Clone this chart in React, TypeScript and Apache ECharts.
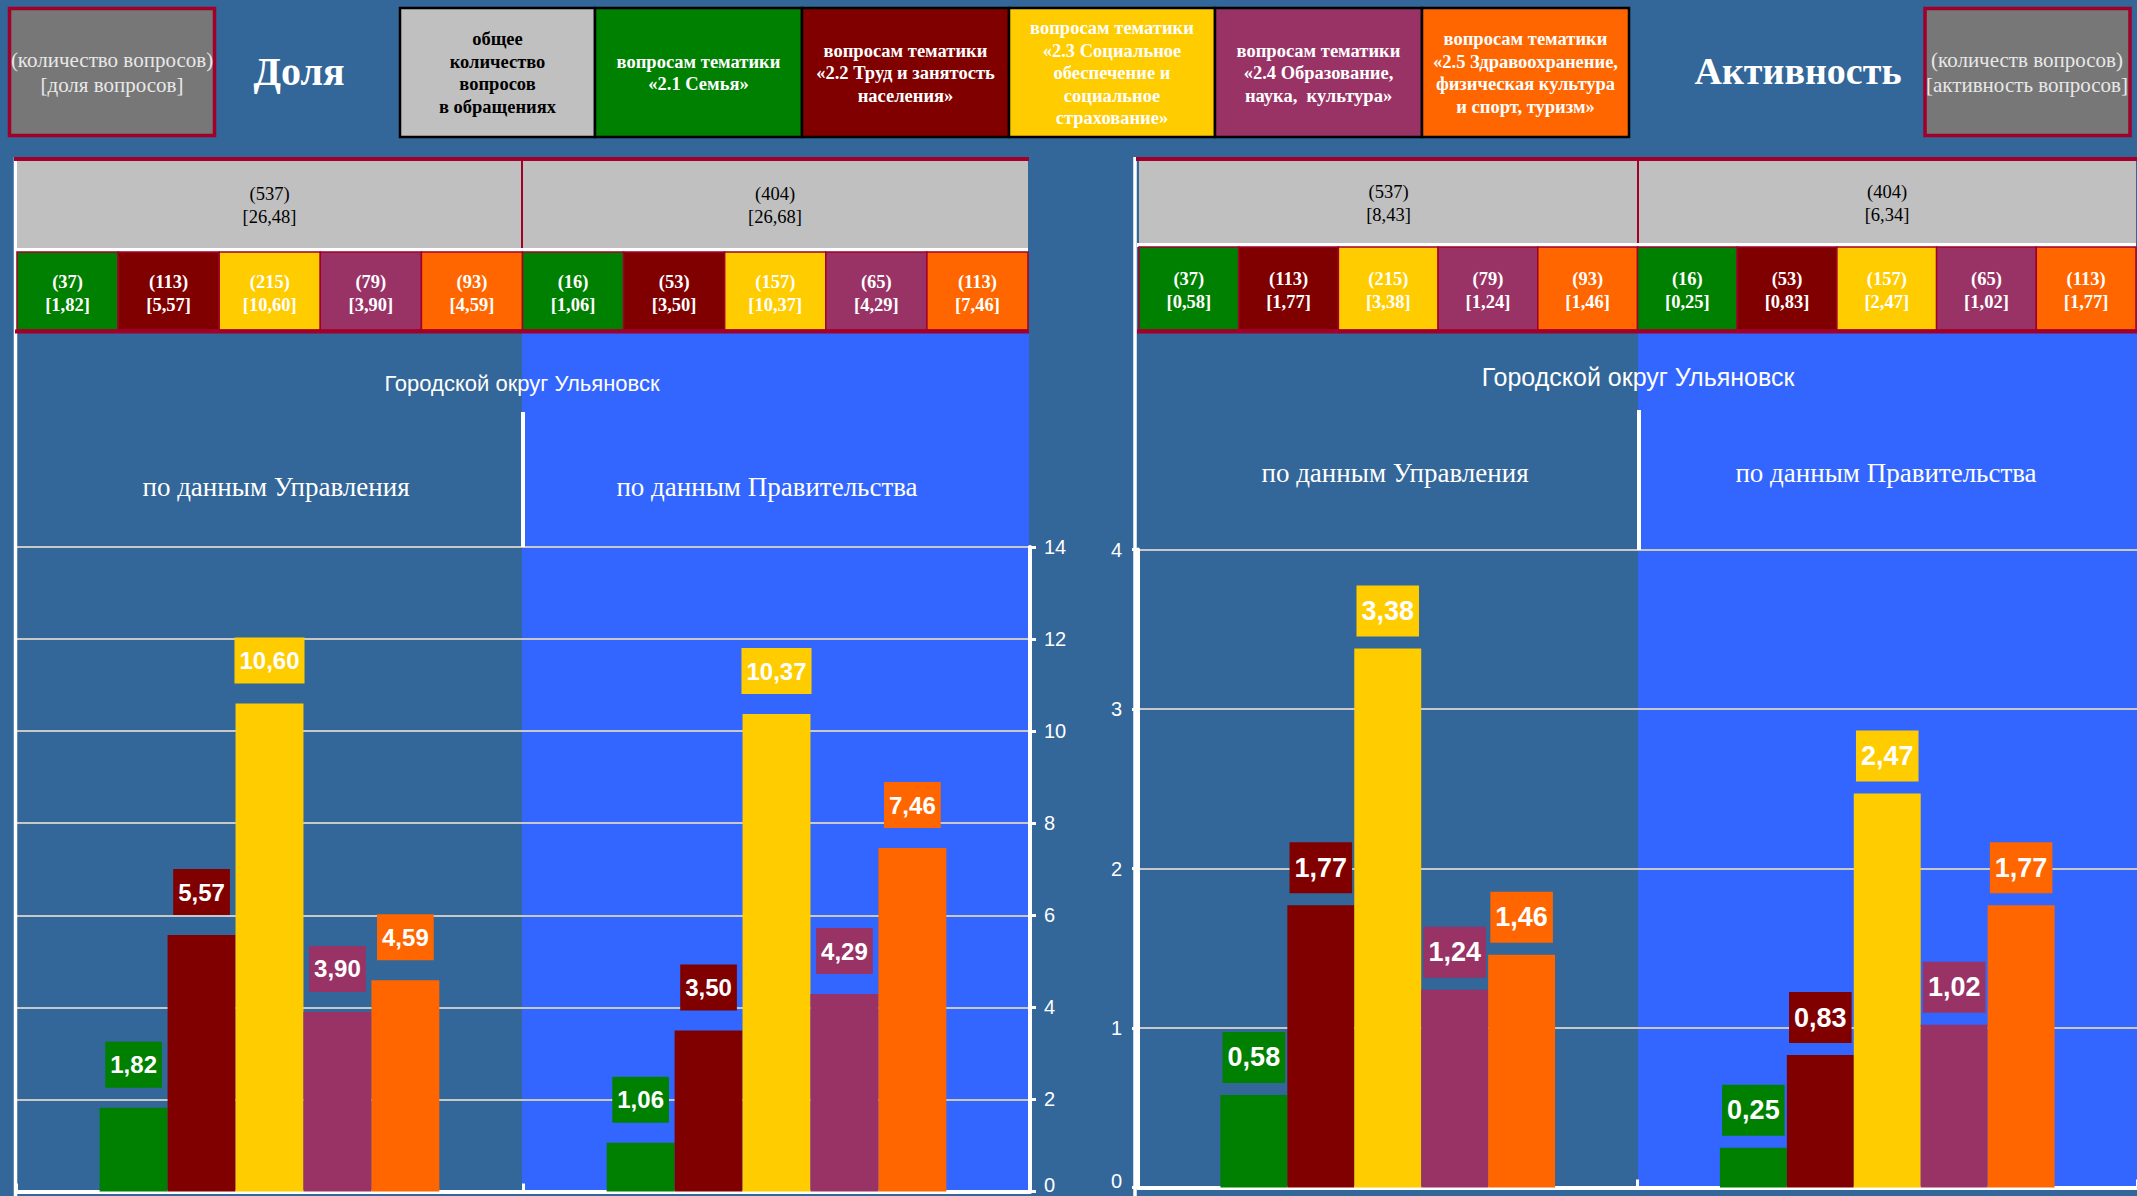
import React, { useEffect, useRef } from 'react';
import * as echarts from 'echarts';

// ---------- data ----------
const groups = ['по данным Управления', 'по данным Правительства'];
const regionName = 'Городской округ Ульяновск';

const topicNames = ['2.1 Семья', '2.2 Труд и занятость населения', '2.3 Социальное обеспечение и социальное страхование', '2.4 Образование, наука, культура', '2.5 Здравоохранение, физическая культура и спорт, туризм'];
const topicTitles = [
  'вопросам тематики\n«2.1 Семья»',
  'вопросам тематики\n«2.2 Труд и занятость\nнаселения»',
  'вопросам тематики\n«2.3 Социальное\nобеспечение и\nсоциальное\nстрахование»',
  'вопросам тематики\n«2.4 Образование,\nнаука,  культура»',
  'вопросам тематики\n«2.5 Здравоохранение,\nфизическая культура\nи спорт, туризм»',
];
const totalTitle = 'общее\nколичество\nвопросов\nв обращениях';

const totalCounts = [537, 404];
const totalShare = [26.48, 26.68];
const totalActivity = [8.43, 6.34];

const countsFamily = [37, 16];
const countsLabour = [113, 53];
const countsSocial = [215, 157];
const countsEducation = [79, 65];
const countsHealth = [93, 113];

const shareFamily = [1.82, 1.06];
const shareLabour = [5.57, 3.5];
const shareSocial = [10.6, 10.37];
const shareEducation = [3.9, 4.29];
const shareHealth = [4.59, 7.46];

const activityFamily = [0.58, 0.25];
const activityLabour = [1.77, 0.83];
const activitySocial = [3.38, 2.47];
const activityEducation = [1.24, 1.02];
const activityHealth = [1.46, 1.77];

const shareAxisMax = 14;
const shareAxisStep = 2;
const activityAxisMax = 4;
const activityAxisStep = 1;

const counts = [countsFamily, countsLabour, countsSocial, countsEducation, countsHealth];
const shares = [shareFamily, shareLabour, shareSocial, shareEducation, shareHealth];
const activities = [activityFamily, activityLabour, activitySocial, activityEducation, activityHealth];

// ---------- styles ----------
const topicColors = ['#008000', '#800000', '#FFCC00', '#993366', '#FF6600'];
const PAGE_BG = '#336699';
const BRIGHT = '#3366FF';
const GRAY = '#C0C0C0';
const CRIMSON = '#A0002A';
const SERIF = '"Liberation Serif", "Times New Roman", serif';
const SANS = '"Liberation Sans", Arial, sans-serif';

const fmt = (v: number) => v.toFixed(2).replace('.', ',');

function buildGraphic() {
  const G: any[] = [];
  const rect = (x: number, y: number, w: number, h: number, fill: string, z = 5, stroke?: string, lw = 0) =>
    G.push({
      type: 'rect', silent: true, z,
      shape: { x, y, width: w, height: h },
      style: stroke ? { fill, stroke, lineWidth: lw } : { fill },
    });
  const line = (x1: number, y1: number, x2: number, y2: number, color: string, w: number, z = 6) =>
    G.push({ type: 'line', silent: true, z, shape: { x1, y1, x2, y2 }, style: { stroke: color, lineWidth: w } });
  const text = (x: number, y: number, str: string, size: number, family: string, color: string, weight = 'normal', lh?: number, z = 8) =>
    G.push({
      type: 'text', silent: true, z, x, y,
      style: {
        text: str, fill: color, fontSize: size, fontFamily: family, fontWeight: weight,
        lineHeight: lh || Math.round(size * 1.2),
        align: 'center', verticalAlign: 'middle', textAlign: 'center', textVerticalAlign: 'middle',
      },
    });

  // ---- top header ----
  rect(9.5, 8.5, 205, 127, '#777777', 5, CRIMSON, 3.5);
  text(112, 72, '(количество вопросов)\n[доля вопросов]', 21, SERIF, '#E8E8E8', 'normal', 25);
  text(299, 71, 'Доля', 40, SERIF, '#FFFFFF', 'bold');

  const legendX = [399, 594, 801, 1008, 1214, 1421, 1628];
  const legendFill = [GRAY, ...topicColors];
  const legendText = [totalTitle, ...topicTitles];
  for (let i = 0; i < 6; i++) {
    const x0 = legendX[i], x1 = legendX[i + 1];
    rect(x0 + 1, 8, x1 - x0, 129, legendFill[i], 5, '#000000', 2.5);
    text((x0 + x1) / 2 + 1, 73, legendText[i], 18.5, SERIF, i === 0 ? '#000000' : '#FFFFFF', 'bold', 22.5);
  }

  text(1798, 71, 'Активность', 38, SERIF, '#FFFFFF', 'bold');
  rect(1925, 8.5, 205, 127, '#777777', 5, CRIMSON, 3.5);
  text(2027, 72, '(количеств вопросов)\n[активность вопросов]', 21, SERIF, '#E8E8E8', 'normal', 25);

  // ---- panels ----
  const panels = [
    { x0: 17, x1: 1028, mid: 522, bgBottom: 1190, headTop: 161, headBot: 248, cellTop: 252, cellBot: 330,
      totals: totalShare, values: shares, title: 383, titleSize: 22, subY: 487, subX: [276, 767],
      divTop: 412, divBot: 547, frameX: 15.5 },
    { x0: 1139, x1: 2136, mid: 1638, bgBottom: 1187, headTop: 161, headBot: 243, cellTop: 247, cellBot: 330,
      totals: totalActivity, values: activities, title: 377, titleSize: 25, subY: 473, subX: [1395, 1886],
      divTop: 410, divBot: 550, frameX: 1135 },
  ];
  panels.forEach((p) => {
    G.push({ type: 'rect', silent: true, z: -10, shape: { x: p.mid, y: 333, width: p.x1 - p.mid + 1, height: p.bgBottom - 333 }, style: { fill: BRIGHT } });
    rect(p.x0 - 2, p.headBot, p.x1 - p.x0 + 2, p.cellTop - p.headBot, '#FFFFFF', 4);
    line(p.frameX, 157, p.frameX, 1196, '#FFFFFF', 3.5, 3);
    line(p.x0 - 3, 159, p.x1 + 1, 159, CRIMSON, 4);
    rect(p.x0, p.headTop, p.x1 - p.x0, p.headBot - p.headTop, GRAY, 5);
    line(p.mid, p.headTop, p.mid, p.headBot, CRIMSON, 2);
    for (let g = 0; g < 2; g++) {
      const cx = g === 0 ? (p.x0 + p.mid) / 2 : (p.mid + p.x1) / 2;
      text(cx, (p.headTop + p.headBot) / 2 + 1, `(${totalCounts[g]})\n[${fmt(p.totals[g])}]`, 18.5, SERIF, '#000000', 'normal', 23);
    }
    const cw = (p.x1 - p.x0) / 10;
    for (let g = 0; g < 2; g++) {
      for (let t = 0; t < 5; t++) {
        const k = g * 5 + t;
        const x = p.x0 + k * cw;
        rect(x, p.cellTop, cw, p.cellBot - p.cellTop, topicColors[t], 5, CRIMSON, 1.5);
        text(x + cw / 2, (p.cellTop + p.cellBot) / 2 + 2, `(${counts[t][g]})\n[${fmt(p.values[t][g])}]`, 18.5, SERIF, '#FFFFFF', 'bold', 23);
      }
    }
    line(p.x0 - 2, p.cellBot + 1.5, p.x1 + 1, p.cellBot + 1.5, CRIMSON, 4);
    text(p.mid, p.title, regionName, p.titleSize, SANS, '#FFFFFF');
    line(p.mid + 1, p.divTop, p.mid + 1, p.divBot, '#FFFFFF', 4);
    text(p.subX[0], p.subY, groups[0], 27, SERIF, '#FFFFFF');
    text(p.subX[1], p.subY, groups[1], 27, SERIF, '#FFFFFF');
  });
  return G;
}

function buildSeries() {
  const series: any[] = [];
  const sets = [
    { values: shares, fontSize: 24, padding: [11, 5], distance: 20 },
    { values: activities, fontSize: 27, padding: [12, 5], distance: 12 },
  ];
  sets.forEach((s, c) => {
    for (let t = 0; t < 5; t++) {
      series.push({
        type: 'bar',
        name: topicNames[t],
        xAxisIndex: c,
        yAxisIndex: c,
        data: s.values[t],
        barGap: '0%',
        barCategoryGap: '33%',
        itemStyle: { color: topicColors[t] },
        label: {
          show: true,
          position: 'top',
          distance: s.distance,
          formatter: (p: any) => fmt(p.value),
          color: '#FFFFFF',
          fontWeight: 'bold',
          fontFamily: SANS,
          fontSize: s.fontSize,
          lineHeight: s.fontSize,
          backgroundColor: topicColors[t],
          padding: s.padding,
        },
      });
    }
  });
  return series;
}

function axisX(gridIndex: number) {
  return {
    type: 'category', gridIndex, data: groups,
    axisLabel: { show: false },
    axisLine: { show: true, lineStyle: { color: '#FFFFFF', width: 4 } },
    axisTick: { show: true, inside: true, length: 8, lineStyle: { color: '#FFFFFF', width: 3 } },
    splitLine: { show: false },
  };
}

function axisY(gridIndex: number, position: string, max: number, step: number, margin: number) {
  return {
    type: 'value', gridIndex, position, min: 0, max, interval: step,
    axisLine: { show: true, lineStyle: { color: '#FFFFFF', width: 4 } },
    axisTick: { show: true, length: 6, lineStyle: { color: '#FFFFFF', width: 3 } },
    axisLabel: {
      color: '#FFFFFF', fontSize: 20, fontFamily: SANS, margin,
      // the lowest label sits at the page's bottom edge: lift it a little so it stays whole
      formatter: (v: number) => (v === 0 ? '{z|0}' : String(v)),
      rich: { z: { color: '#FFFFFF', fontSize: 20, fontFamily: SANS, lineHeight: 20, padding: [0, 0, 14, 0] } },
    },
    splitLine: { show: true, lineStyle: { color: '#C8C8C8', width: 2 } },
  };
}

export default function App() {
  const ref = useRef<HTMLDivElement>(null);
  useEffect(() => {
    if (!ref.current) return;
    const chart = echarts.init(ref.current, undefined, { renderer: 'svg' });
    chart.setOption({
      animation: false,
      backgroundColor: PAGE_BG,
      graphic: { elements: buildGraphic() },
      grid: [
        { left: 16, right: 1107, top: 547, bottom: 4.5, containLabel: false, outerBoundsMode: 'none' },
        { left: 1138, right: 0, top: 549.5, bottom: 8.5, containLabel: false, outerBoundsMode: 'none' },
      ],
      xAxis: [axisX(0), axisX(1)],
      yAxis: [
        axisY(0, 'right', shareAxisMax, shareAxisStep, 14),
        axisY(1, 'left', activityAxisMax, activityAxisStep, 16),
      ],
      series: buildSeries(),
    });
    return () => chart.dispose();
  }, []);
  return <div ref={ref} style={{ position: 'fixed', left: 0, top: 0, width: '2137px', height: '1196px' }} />;
}
